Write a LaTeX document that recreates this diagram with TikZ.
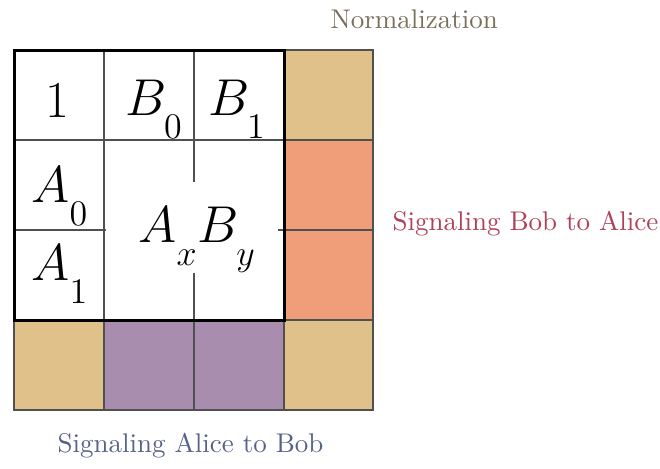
\documentclass[tikz,border=0pt]{standalone}
\definecolor{tanc}{HTML}{DFC189}
\definecolor{salmonc}{HTML}{F09E7A}
\definecolor{purplec}{HTML}{A98DAE}
\definecolor{normc}{HTML}{7A6E5A}
\definecolor{bobc}{HTML}{B0405A}
\definecolor{alicec}{HTML}{55628A}
\definecolor{gridc}{HTML}{505050}
\newcommand\lsub[1]{_{\lower0.3em\hbox{$\scriptstyle #1$}}}
\begin{document}
\begin{tikzpicture}[x=0.4pt,y=-0.4pt,
  thin line/.style={draw=gridc,line width=0.45pt},
  thick border/.style={draw=black,line width=1.2pt},
  mathlbl/.style={anchor=base west,inner sep=0pt,font=\fontsize{21.6}{26}\selectfont},
  txtlbl/.style={anchor=base west,inner sep=0pt,font=\fontsize{10.8}{13}\selectfont}]
\useasboundingbox (0,0) rectangle (660,468);
% coloured cells
\fill[tanc] (284,50) rectangle (373,140);
\fill[tanc] (14,320) rectangle (104,410);
\fill[tanc] (284,320) rectangle (373,410);
\fill[salmonc] (284,140) rectangle (373,320);
\fill[purplec] (104,320) rectangle (284,410);
% thin grid lines
\draw[thin line] (284,50) rectangle (373,410);
\draw[thin line] (14,320) rectangle (373,410);
\draw[thin line] (104,50) -- (104,410);
\draw[thin line] (194,50) -- (194,182);
\draw[thin line] (194,273) -- (194,410);
\draw[thin line] (14,140) -- (373,140);
\draw[thin line] (14,230) -- (106,230);
\draw[thin line] (278,230) -- (373,230);
\draw[thin line] (284,320) -- (373,320);
% thick border
\draw[thick border] (14,50) rectangle (284,320);
% cell labels
\node[mathlbl] (one) at (45,117) {$1$};
\node[mathlbl] (b0) at (125,115) {$B\lsub{0}$};
\node[mathlbl] (b1) at (208,115) {$B\lsub{1}$};
\node[mathlbl] (a0) at (31,202) {$A\lsub{0}$};
\node[mathlbl] (a1) at (31,280) {$A\lsub{1}$};
\node[mathlbl] (axby) at (138,242) {$A\lsub{x}B\lsub{y}$};
% side labels
\node[txtlbl,text=normc] (norm) at (330,28) {Normalization};
\node[txtlbl,text=bobc] (bob) at (392,230) {Signaling Bob to Alice};
\node[txtlbl,text=alicec] (alice) at (57,452) {Signaling Alice to Bob};
\end{tikzpicture}
\end{document}
